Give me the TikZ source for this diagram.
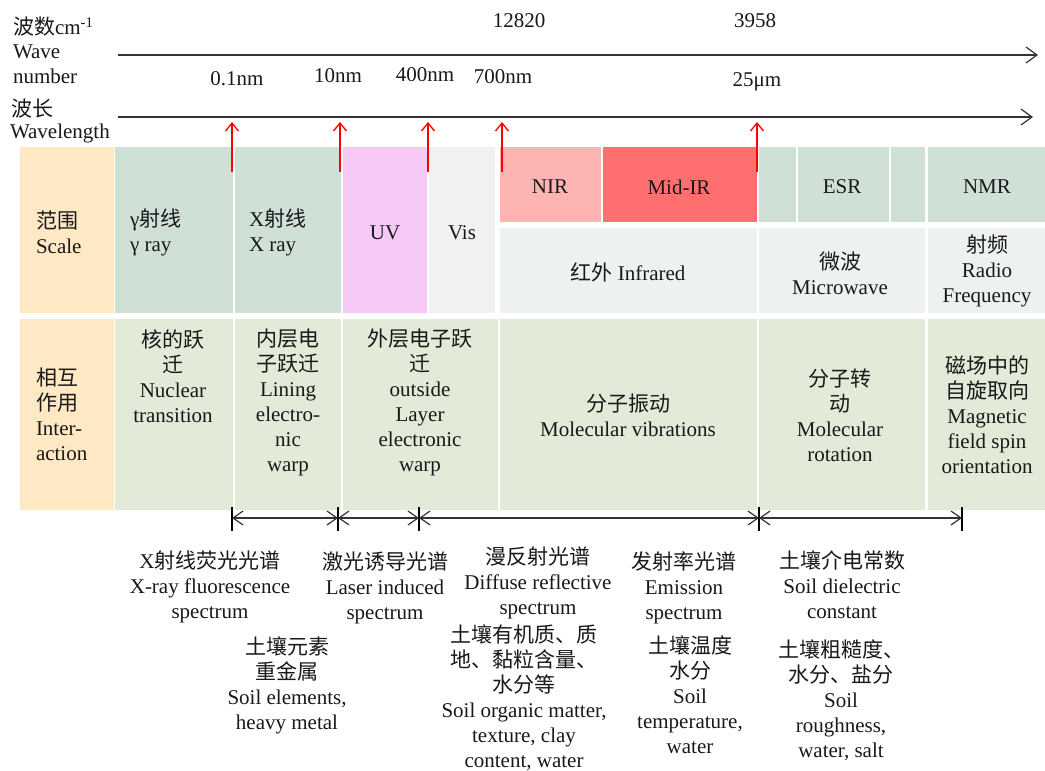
\documentclass[tikz,border=0pt]{standalone}
\usepackage{fontspec}
\setmainfont{Liberation Serif}
\newfontfamily\cjkfont{Noto Sans CJK SC}
\newcommand\zhs[1]{{\cjkfont #1}}
\usetikzlibrary{arrows.meta}
\definecolor{cPeach}{HTML}{FFE8C4}
\definecolor{cSage}{HTML}{CFE0D7}
\definecolor{cPink}{HTML}{F6C8F6}
\definecolor{cVis}{HTML}{F1F1F1}
\definecolor{cNIR}{HTML}{FFB4B4}
\definecolor{cMIR}{HTML}{FF6F6F}
\definecolor{cPale}{HTML}{EDF2EE}
\definecolor{cInter}{HTML}{E2EAD8}
\begin{document}
\begin{tikzpicture}[x=1pt,y=-1pt,
  every node/.style={inner sep=0pt, outer sep=0pt, font=\fontsize{21}{25}\selectfont, text=black!90},
  lab/.style={align=center},
  labl/.style={align=left, anchor=west},
  axis/.style={draw=black!80, line width=1.4pt, -{Straight Barb[length=11pt,width=16pt,line width=1.2pt]}},
  redarr/.style={draw=red, line width=1.3pt, -{Straight Barb[length=8pt,width=13pt]}},
  dimarr/.style={draw=black!80, line width=1.2pt, {Straight Barb[length=10pt,width=14pt]}-{Straight Barb[length=10pt,width=14pt]}},
  tickmark/.style={draw=black, line width=2.2pt}]
\useasboundingbox (0,0) rectangle (1045,771);
\fill[white] (0,0) rectangle (1045,771);

% ---- range row
\fill[cPeach] (20,147) rectangle (114,313);
\fill[cSage] (115,147) rectangle (233,313);
\fill[cSage] (235,147) rectangle (341,313);
\fill[cPink] (343,147) rectangle (427,313);
\fill[cVis] (429,147) rectangle (495,313);
\fill[cNIR] (500,147) rectangle (601,222);
\fill[cMIR] (603,147) rectangle (757,222);
\fill[cSage] (759,147) rectangle (796,222);
\fill[cSage] (798,147) rectangle (889,222);
\fill[cSage] (891,147) rectangle (925,222);
\fill[cSage] (928,147) rectangle (1045,222);
\fill[cPale] (500,228) rectangle (757,313);
\fill[cPale] (759,228) rectangle (925,313);
\fill[cPale] (928,228) rectangle (1045,313);
% ---- interaction row
\fill[cPeach] (20,319) rectangle (114,510);
\fill[cInter] (115,319) rectangle (233,510);
\fill[cInter] (235,319) rectangle (341,510);
\fill[cInter] (343,319) rectangle (498,510);
\fill[cInter] (500,319) rectangle (757,510);
\fill[cInter] (759,319) rectangle (925,510);
\fill[cInter] (928,319) rectangle (1045,510);

% ---- axes
\coordinate (ax1s) at (118,55);
\coordinate (ax1e) at (1038,55);
\coordinate (ax2s) at (118,117);
\coordinate (ax2e) at (1033,117);
\draw[axis] (ax1s) -- (ax1e);
\draw[axis] (ax2s) -- (ax2e);

% ---- red markers
\foreach \i/\x in {1/232,2/340,3/428,4/502,5/757}{
  \coordinate (rb\i) at (\x,172);
  \coordinate (rt\i) at (\x,122);
  \draw[redarr] (rb\i) -- (rt\i);
}

% ---- axis labels
\node[labl] (wnzh) at (13,27) {\zhs{波数}cm\textsuperscript{-1}};
\node[labl] (wave) at (13,52) {Wave};
\node[labl] (number) at (13,76) {number};
\node[labl] (wlzh) at (12,109) {\zhs{波长}};
\node[labl] (wlen) at (10,133) {Wavelength};
\node (n12820) at (519,21) {12820};
\node (n3958) at (755,21) {3958};
\node (w01) at (237,79) {0.1nm};
\node (w10) at (338,76) {10nm};
\node (w400) at (425,75) {400nm};
\node (w700) at (503,77) {700nm};
\node (w25) at (757,82) {25μm};

% ---- range labels
\node[labl] (scale) at (36,232) {\zhs{范围}\\Scale};
\node[labl] (gam) at (130,232) {γ\zhs{射线}\\γ ray};
\node[labl] (xray) at (249,232) {X\zhs{射线}\\X ray};
\node (uv) at (385,233) {UV};
\node (vis) at (462,233) {Vis};
\node (nir) at (550,187) {NIR};
\node (mir) at (679,187) {Mid-IR};
\node (esr) at (842,187) {ESR};
\node (nmr) at (987,187) {NMR};
\node (ir) at (628,272) {\zhs{红外} Infrared};
\node[lab] (mw) at (840,273) {\zhs{微波}\\Microwave};
\node[lab] (rf) at (987,271) {\zhs{射频}\\Radio\\Frequency};

% ---- interaction labels
\node[labl] (inter) at (36,414) {\zhs{相互}\\\zhs{作用}\\Inter-\\action};
\node[lab] (nuc) at (173,376) {\zhs{核的跃}\\\zhs{迁}\\Nuclear\\transition};
\node[lab] (inner) at (288,402) {\zhs{内层电}\\\zhs{子跃迁}\\Lining\\electro-\\nic\\warp};
\node[lab] (outer) at (420,402) {\zhs{外层电子跃}\\\zhs{迁}\\outside\\Layer\\electronic\\warp};
\node[lab] (vib) at (628,415) {\zhs{分子振动}\\Molecular vibrations};
\node[lab] (rot) at (840,415) {\zhs{分子转}\\\zhs{动}\\Molecular\\rotation};
\node[lab] (spin) at (987,415) {\zhs{磁场中的}\\\zhs{自旋取向}\\Magnetic\\field spin\\orientation};

% ---- dimension arrows
\foreach \i/\x in {1/232,2/338,3/419,4/759,5/962}{
  \coordinate (d\i) at (\x,518);
  \coordinate (dt\i) at (\x,507);
  \coordinate (db\i) at (\x,531);
  \draw[tickmark] (dt\i) -- (db\i);
}
\draw[dimarr] (d1) -- (d2);
\draw[dimarr] (d2) -- (d3);
\draw[dimarr] (d3) -- (d4);
\draw[dimarr] (d4) -- (d5);

% ---- methods
\node[lab] (xrf) at (210,587) {X\zhs{射线荧光光谱}\\X-ray fluorescence\\spectrum};
\node[lab] (libs) at (385,588) {\zhs{激光诱导光谱}\\Laser induced\\spectrum};
\node[lab] (xrfp) at (287,685) {\zhs{土壤元素}\\\zhs{重金属}\\Soil elements,\\heavy metal};
\node[lab] (drs) at (538,583) {\zhs{漫反射光谱}\\Diffuse reflective\\spectrum};
\node[lab] (drsp) at (524,698) {\zhs{土壤有机质、质}\\\zhs{地、黏粒含量、}\\\zhs{水分等}\\Soil organic matter,\\texture, clay\\content, water};
\node[lab] (ems) at (684,588) {\zhs{发射率光谱}\\Emission\\spectrum};
\node[lab] (emsp) at (690,695) {\zhs{土壤温度}\\\zhs{水分}\\Soil\\temperature,\\water};
\node[lab] (die) at (842,585) {\zhs{土壤介电常数}\\Soil dielectric\\constant};
\node[lab] (diep) at (841,700) {\zhs{土壤粗糙度、}\\\zhs{水分、盐分}\\Soil\\roughness,\\water, salt};
\end{tikzpicture}
\end{document}
